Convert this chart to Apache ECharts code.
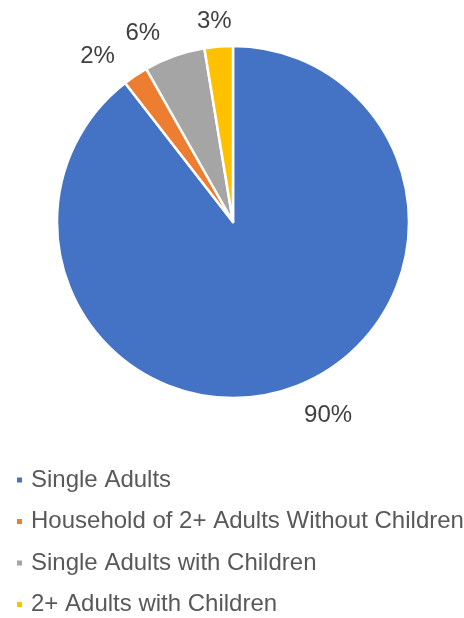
<!DOCTYPE html>
<html>
<head>
<meta charset="utf-8">
<script src="https://cdn.jsdelivr.net/npm/echarts@6/dist/echarts.min.js"></script>
<style>
  html, body { margin: 0; padding: 0; background: #fff; }
  #main { width: 464px; height: 618px; }
</style>
</head>
<body>
<div id="main"></div>
<script>
// household types, share of total (%)
var categories = ['Single Adults', 'Household of 2+ Adults Without Children', 'Single Adults with Children', '2+ Adults with Children'];
var shares = [89.5, 2.3, 5.6, 2.6];
var colors = ['#4472C4', '#ED7D31', '#A5A5A5', '#FFC000'];

var pieData = categories.map(function (name, i) {
    return { name: name, value: shares[i], itemStyle: { color: colors[i] } };
});

var myChart = echarts.init(document.getElementById('main'));
myChart.setOption({
    animation: false,
    textStyle: { fontFamily: 'Liberation Sans, Arial, sans-serif' },
    legend: {
        orient: 'vertical',
        left: 15,
        top: 468,
        padding: 0,
        icon: 'rect',
        itemWidth: 7,
        itemHeight: 7,
        itemGap: 17.5,
        data: categories,
        textStyle: { fontSize: 24, color: '#595959', lineHeight: 24, padding: [0, 0, 0, 3] }
    },
    series: [
        {
            type: 'pie',
            center: [233, 222],
            radius: 176,
            startAngle: 90,
            clockwise: true,
            avoidLabelOverlap: false,
            itemStyle: { borderColor: '#fff', borderWidth: 2.5 },
            label: {
                show: true,
                position: 'outside',
                fontSize: 24,
                color: '#404040',
                formatter: function (p) { return Math.round(p.percent) + '%'; }
            },
            labelLine: { show: false, length: 28, length2: 0 },
            // small slices on the upper left: nudge labels down a bit,
            // and centre the one next to 12 o'clock over its slice
            labelLayout: function (p) {
                if (p.dataIndex === 3) return { dx: p.labelRect.width / 2 + 3, dy: 3 };
                if (p.dataIndex > 0) return { dy: 4 };
            },
            emphasis: { disabled: true },
            data: pieData
        }
    ]
});
</script>
</body>
</html>
